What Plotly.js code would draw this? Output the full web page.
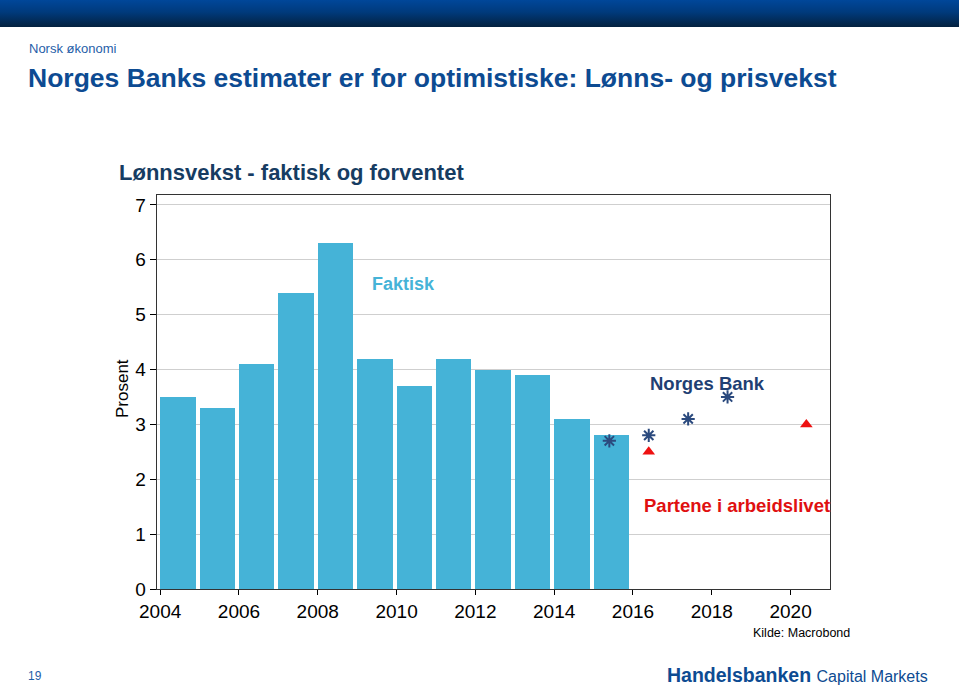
<!DOCTYPE html>
<html>
<head>
<meta charset="utf-8">
<script src="https://cdn.plot.ly/plotly-3.0.1.min.js"></script>
<style>
  html, body { margin: 0; padding: 0; background: #ffffff; }
  #wrap { position: relative; width: 959px; height: 686px; overflow: hidden; }
  #topbar { position: absolute; left: 0; top: 0; width: 959px; height: 27px;
    background: linear-gradient(to bottom, #00479a 0%, #003a7c 45%, #04213f 100%); z-index: 0; }
  #chart { position: absolute; left: 0; top: 0; width: 959px; height: 686px; z-index: 1; }
</style>
</head>
<body>
<div id="wrap">
  <div id="topbar"></div>
  <div id="chart"></div>
</div>
<script>
// ---- data ----
const years = [2004, 2005, 2006, 2007, 2008, 2009, 2010, 2011, 2012, 2013, 2014, 2015];
const faktisk = [3.5, 3.3, 4.1, 5.4, 6.3, 4.2, 3.7, 4.2, 4.0, 3.9, 3.1, 2.8];
const nbYears = [2015.4, 2016.4, 2017.4, 2018.4];
const norgesBank = [2.7, 2.8, 3.1, 3.5];
const partYears = [2016.4, 2020.4];
const partene = [2.5, 3.0];
const xTicks = [2004, 2006, 2008, 2010, 2012, 2014, 2016, 2018, 2020];
const yTicks = [0, 1, 2, 3, 4, 5, 6, 7];

// ---- geometry helpers (pixel -> paper) ----
const W = 959, H = 686;
const L = 157, R = 830, T = 195, B = 589;
const px = x => (x - L) / (R - L);
const py = y => (B - y) / (B - T);

const FONT = 'Arial, "Liberation Sans", sans-serif';

const traces = [
  {
    type: 'bar', x: years, y: faktisk, offset: 0, width: 0.9,
    marker: { color: '#45b3d7', line: { width: 0 } },
    hoverinfo: 'x+y', showlegend: false
  },
  {
    type: 'scatter', mode: 'markers', x: nbYears, y: norgesBank,
    marker: { symbol: 'asterisk-open', size: 11, color: '#2b4a7e', line: { color: '#2b4a7e', width: 2 } },
    showlegend: false
  },
  {
    type: 'scatter', mode: 'markers', x: partYears, y: partene,
    marker: { symbol: 'triangle-up', size: 11, color: '#ee1111' },
    showlegend: false
  }
];

const ann = (text, x, y, size, color, bold, xanchor, angle) => ({
  xref: 'paper', yref: 'paper', x: px(x), y: py(y),
  xanchor: xanchor || 'left', yanchor: 'middle', showarrow: false,
  textangle: angle || 0,
  text: bold ? '<b>' + text + '</b>' : text,
  font: { family: FONT, size: size, color: color }
});

const layout = {
  width: W, height: H,
  margin: { l: L, r: W - R, t: T, b: H - B, pad: 0 },
  paper_bgcolor: 'rgba(0,0,0,0)',
  plot_bgcolor: '#ffffff',
  bargap: 0,
  xaxis: {
    range: [2003.92, 2021], tickvals: xTicks, ticktext: xTicks.map(String),
    showgrid: false, zeroline: false,
    showline: true, linecolor: '#333333', linewidth: 1.3, mirror: true,
    ticks: 'outside', ticklen: 5, tickcolor: '#000000', tickwidth: 1,
    tickfont: { family: FONT, size: 19, color: '#000000' }
  },
  yaxis: {
    range: [0, 7.18], tickvals: yTicks,
    showgrid: true, gridcolor: '#cfcfcf', gridwidth: 1, zeroline: false,
    showline: true, linecolor: '#333333', linewidth: 1.3, mirror: true,
    ticks: 'outside', ticklen: 6, tickcolor: '#000000', tickwidth: 1,
    tickfont: { family: FONT, size: 19, color: '#000000' }
  },
  annotations: [
    ann('Norsk økonomi', 27, 48, 13, '#1f5ea8', false),
    ann('Norges Banks estimater er for optimistiske: Lønns- og prisvekst', 26, 78, 26.5, '#0d4b92', true),
    ann('Lønnsvekst - faktisk og forventet', 117, 172, 22, '#163c62', true),
    ann('Prosent', 122, 389, 17, '#000000', false, 'center', -90),
    ann('Faktisk', 370, 284, 18, '#45b3d7', true),
    ann('Norges Bank', 648, 383, 18.5, '#1f3f73', true),
    ann('Partene i arbeidslivet', 642, 505, 18.5, '#e01010', true),
    ann('Kilde: Macrobond', 751, 633, 12.5, '#000000', false),
    ann('19', 35, 676, 12, '#1f5ea8', false, 'center'),
    ann('<b>Handelsbanken</b> <span style="font-size:16px">Capital Markets</span>', 665, 675, 19.5, '#0d4b92', false)
  ]
};

Plotly.newPlot('chart', traces, layout, { displayModeBar: false, staticPlot: true });
</script>
</body>
</html>
